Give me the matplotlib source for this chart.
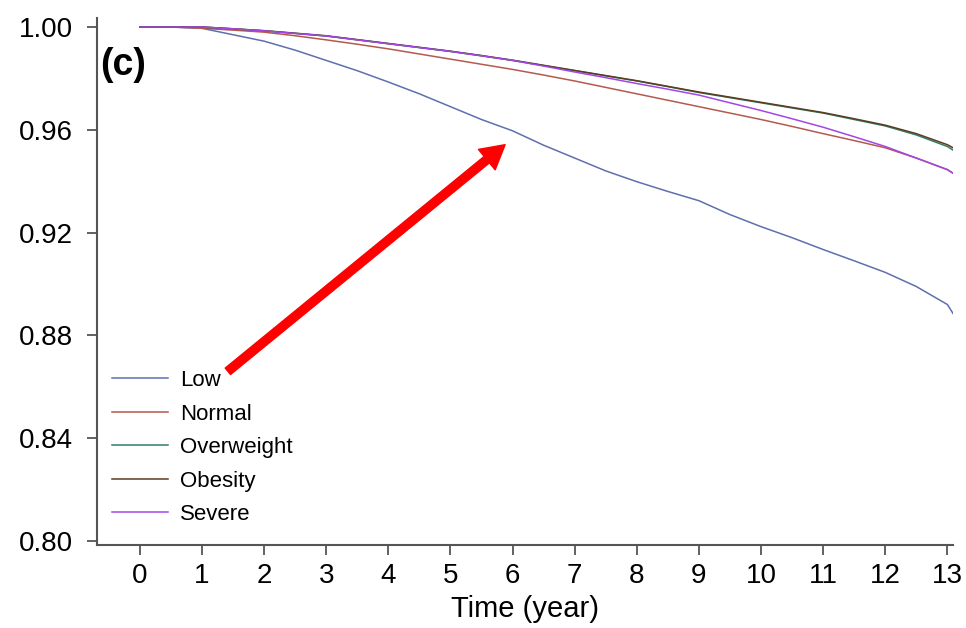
import matplotlib
matplotlib.use("Agg")
import matplotlib.pyplot as plt
import numpy as np

plt.rcParams['font.family'] = ['Liberation Sans', 'DejaVu Sans']

# survival curves
years = [0, 0.5, 1, 1.5, 2, 2.5, 3, 3.5, 4, 4.5, 5, 5.5, 6, 6.5, 7, 7.5,
         8, 8.5, 9, 9.5, 10, 10.5, 11, 11.5, 12, 12.5, 13, 13.13]
low = [1.0, 1.0, 0.9995, 0.997, 0.9945, 0.991, 0.987, 0.983, 0.9786, 0.974,
       0.969, 0.964, 0.9596, 0.954, 0.949, 0.944, 0.9398, 0.936, 0.9324, 0.927,
       0.9223, 0.918, 0.9134, 0.909, 0.9045, 0.899, 0.892, 0.887]
normal = [1.0, 1.0, 0.9995, 0.9988, 0.998, 0.9966, 0.995, 0.9933, 0.9915, 0.9895,
          0.9875, 0.9855, 0.9835, 0.9813, 0.979, 0.9765, 0.974, 0.9715, 0.969, 0.9665,
          0.964, 0.9613, 0.9585, 0.9558, 0.953, 0.949, 0.9445, 0.9425]
overweight = [1.0, 1.0, 1.0, 0.9993, 0.9985, 0.9975, 0.9965, 0.995, 0.9935, 0.992,
              0.9905, 0.9888, 0.987, 0.985, 0.983, 0.981, 0.979, 0.9768, 0.9745, 0.9725,
              0.9705, 0.9685, 0.9665, 0.964, 0.9615, 0.958, 0.9535, 0.9515]
obesity = [1.0, 1.0, 1.0, 0.9993, 0.9986, 0.9976, 0.9966, 0.9951, 0.9936, 0.9921,
           0.9906, 0.9889, 0.9871, 0.9851, 0.9831, 0.9811, 0.9791, 0.9769, 0.9747, 0.9727,
           0.9707, 0.9687, 0.9667, 0.9643, 0.9618, 0.9585, 0.9542, 0.9525]
severe = [1.0, 1.0, 1.0, 0.9993, 0.9985, 0.9975, 0.9965, 0.995, 0.9935, 0.992,
          0.9905, 0.9888, 0.987, 0.9848, 0.9825, 0.9803, 0.978, 0.9758, 0.9735, 0.9705,
          0.9675, 0.9643, 0.961, 0.9573, 0.9535, 0.949, 0.9445, 0.9425]

series = [('Low', low, '#5f6fae'),
          ('Normal', normal, '#b45a4c'),
          ('Overweight', overweight, '#2f7c6e'),
          ('Obesity', obesity, '#5c3e1c'),
          ('Severe', severe, '#a346e6')]

fig = plt.figure(figsize=(9.66, 6.28), dpi=100)
ax = fig.add_axes([0.1004, 0.1322, 0.8861, 0.8391])

for name, vals, col in series:
    ax.plot(years, vals, color=col, lw=1.1, label=name)

ax.set_xlim(-0.69, 13.09)
ax.set_ylim(0.7984, 1.0035)
ax.set_xticks(np.arange(0, 14))
ax.set_yticks([0.80, 0.84, 0.88, 0.92, 0.96, 1.00])
ax.set_yticklabels(['0.80', '0.84', '0.88', '0.92', '0.96', '1.00'])
ax.tick_params(axis='both', labelsize=20, length=7.2, width=1.3, color='#555555')
ax.tick_params(axis='y', pad=10)
ax.tick_params(axis='x', pad=6)
for s in ['top', 'right']:
    ax.spines[s].set_visible(False)
for s in ['left', 'bottom']:
    ax.spines[s].set_color('#555555')
    ax.spines[s].set_linewidth(1.5)

ax.set_xlabel('Time (year)', fontsize=21, labelpad=4)

ax.text(0.004, 0.911, '(c)', transform=ax.transAxes, fontsize=27,
        fontweight='bold', va='center', ha='left')

ax.legend(loc='lower left', bbox_to_anchor=(0.0175, 0.038), frameon=False,
          fontsize=16, handlelength=2.5, handletextpad=0.55, labelspacing=0.56,
          borderpad=0, borderaxespad=0)

ax.annotate('', xy=(5.88, 0.9542), xytext=(1.417, 0.866),
            arrowprops=dict(facecolor='red', edgecolor='red', width=6,
                            headwidth=19, headlength=17, shrink=0))

plt.savefig('out.png', dpi=100)
